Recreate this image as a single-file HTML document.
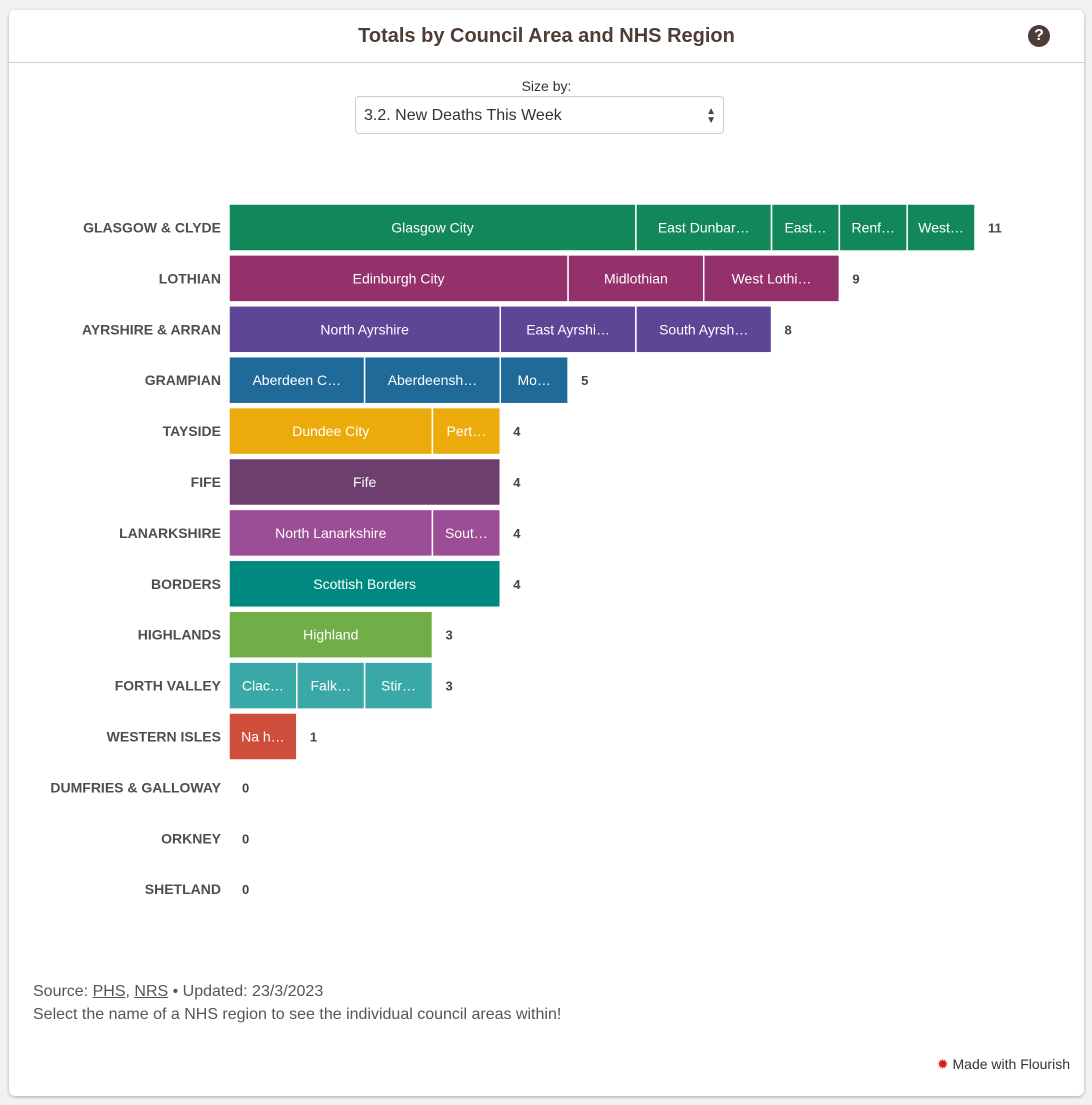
<!DOCTYPE html>
<html><head><meta charset="utf-8"><style>
body{margin:0;width:1092px;height:1105px;background:#f2f2f2;font-family:"Liberation Sans",sans-serif;position:relative;overflow:hidden}
.card{position:absolute;left:9px;top:10px;width:1075px;height:1086px;background:#fff;border-radius:6px;box-shadow:0 1px 3px rgba(0,0,0,.3)}
.title{position:absolute;left:0;top:0;width:100%;height:52px;line-height:52px;text-align:center;font-weight:bold;font-size:20px;color:#4e3c36;border-bottom:1px solid #ccc}
.help{position:absolute;right:34px;top:15px;width:22px;height:22px;border-radius:50%;background:#4e3c36;color:#fff;font-weight:bold;font-size:16px;text-align:center;line-height:22px}
.sizeby{position:absolute;left:0;top:68px;width:100%;text-align:center;font-size:14px;color:#333}
.sel{position:absolute;left:346px;top:86px;width:369px;height:38px;border:1px solid #ccc;border-radius:4px;font-size:16px;color:#333;line-height:38px;padding-left:8px;box-sizing:border-box}
.sel span{position:absolute;right:7px;top:0;font-size:10px;line-height:9px;padding-top:10px;color:#444}
.foot{position:absolute;left:24px;top:970px;font-size:16px;color:#555;line-height:23px}
.foot u{color:#555}
.fl{position:absolute;right:14px;top:1046px;font-size:14px;color:#333}
svg text{font-family:"Liberation Sans",sans-serif}
</style></head><body>
<div class="card">
<div class="title">Totals by Council Area and NHS Region</div>
<div class="help">?</div>
<div class="sizeby">Size by:</div>
<div class="sel">3.2. New Deaths This Week<span>▲<br>▼</span></div>
<div class="foot">Source: <u>PHS</u>, <u>NRS</u> • Updated: 23/3/2023<br>Select the name of a NHS region to see the individual council areas within!</div>
<div class="fl"><span style="color:#d01f1f">✹</span> Made with Flourish</div>
</div>
<svg id="chart" width="1092" height="1105" style="position:absolute;left:0;top:0"></svg>
<script>
const regions=["GLASGOW & CLYDE","LOTHIAN","AYRSHIRE & ARRAN","GRAMPIAN","TAYSIDE","FIFE","LANARKSHIRE","BORDERS","HIGHLANDS","FORTH VALLEY","WESTERN ISLES","DUMFRIES & GALLOWAY","ORKNEY","SHETLAND"];
const segLabels=[["Glasgow City","East Dunbar…","East…","Renf…","West…"],["Edinburgh City","Midlothian","West Lothi…"],["North Ayrshire","East Ayrshi…","South Ayrsh…"],["Aberdeen C…","Aberdeensh…","Mo…"],["Dundee City","Pert…"],["Fife"],["North Lanarkshire","Sout…"],["Scottish Borders"],["Highland"],["Clac…","Falk…","Stir…"],["Na h…"],[],[],[]];
const segValues=[[6,2,1,1,1],[5,2,2],[4,2,2],[2,2,1],[3,1],[4],[3,1],[4],[3],[1,1,1],[1],[],[],[]];
const colors=["#12875a","#94306a","#5e4595","#1f6a99","#ebab0b","#6d3f6e","#9b4d96","#00897f","#72ae48","#3aa8a6","#cf4e3b","#999","#999","#999"];
const svg=document.getElementById('chart');const NS="http://www.w3.org/2000/svg";
const x0=229,unit=746/11,y0=204,step=50.9,bh=47;
const xs=v=>x0+v*unit, ys=i=>y0+i*step;
function el(t,a){const e=document.createElementNS(NS,t);for(const k in a)e.setAttribute(k,a[k]);svg.appendChild(e);return e;}
regions.forEach((r,i)=>{
 const cy=ys(i)+bh/2;
 const lab=el('text',{x:221,y:cy+5,'text-anchor':'end','font-size':14,'font-weight':'bold',fill:'#4e4e4e'});lab.textContent=r;
 
 
 let acc=0;
 segValues[i].forEach((v,j)=>{
  const rc=el('rect',{x:xs(acc),y:ys(i),width:xs(acc+v)-xs(acc),height:bh,fill:colors[i],stroke:'#fff','stroke-width':1.5});
  
  
  const t=el('text',{x:(xs(acc)+xs(acc+v))/2,y:cy+5,'text-anchor':'middle','font-size':14,fill:'#fff'});t.textContent=segLabels[i][j];
  
  
  acc+=v;
 });
 const tot=el('text',{x:xs(acc)+13,y:cy+5,'font-size':13,'font-weight':'bold',fill:'#444'});tot.textContent=acc;
 
 
});
</script>
</body></html>
